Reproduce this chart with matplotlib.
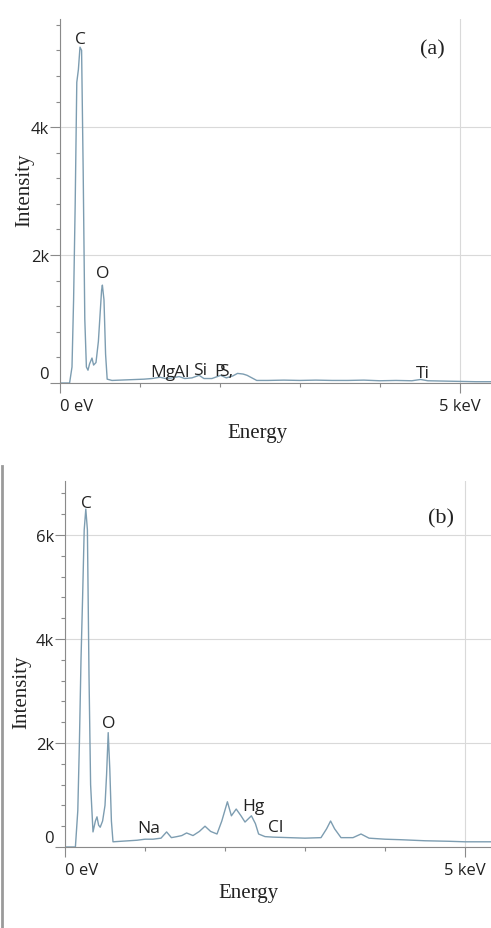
import matplotlib.pyplot as plt
from matplotlib.lines import Line2D
from matplotlib.ticker import MultipleLocator, FuncFormatter
from matplotlib.transforms import ScaledTranslation

# ---------------- data (keV, counts) ----------------
energy_a = [0.00, 0.12, 0.15, 0.17, 0.19, 0.21, 0.23, 0.25, 0.27, 0.29, 0.31, 0.33,
            0.35, 0.37, 0.40, 0.42, 0.45, 0.48, 0.50, 0.52, 0.53, 0.55, 0.57, 0.59,
            0.65, 0.75, 0.85, 0.95, 1.05, 1.15, 1.25, 1.32, 1.40, 1.49, 1.56, 1.65,
            1.74, 1.80, 1.90, 2.01, 2.08, 2.16, 2.22, 2.29, 2.34, 2.40, 2.46, 2.60,
            2.80, 3.00, 3.20, 3.40, 3.60, 3.80, 4.00, 4.20, 4.40, 4.51, 4.60, 4.80,
            5.00, 5.20, 5.39]
counts_a = [0, 0, 250, 1300, 2800, 4700, 4900, 5250, 5200, 3300, 1000, 250,
            200, 300, 390, 280, 320, 650, 1050, 1450, 1530, 1300, 450, 60,
            40, 45, 50, 55, 60, 70, 90, 70, 80, 100, 70, 80,
            120, 70, 70, 120, 80, 110, 150, 140, 120, 80, 40, 40,
            45, 40, 45, 40, 40, 45, 35, 40, 35, 55, 35, 30,
            25, 20, 20]

energy_b = [0.00, 0.13, 0.16, 0.18, 0.20, 0.22, 0.24, 0.26, 0.28, 0.30, 0.32, 0.35,
            0.38, 0.40, 0.42, 0.44, 0.47, 0.50, 0.52, 0.54, 0.56, 0.58, 0.60, 0.70,
            0.80, 0.90, 1.00, 1.10, 1.20, 1.27, 1.33, 1.40, 1.46, 1.52, 1.60, 1.68,
            1.75, 1.82, 1.90, 1.96, 2.03, 2.08, 2.14, 2.20, 2.25, 2.33, 2.38, 2.42,
            2.50, 2.60, 2.80, 3.00, 3.20, 3.27, 3.32, 3.37, 3.45, 3.60, 3.70, 3.80,
            4.00, 4.20, 4.50, 4.80, 5.00, 5.32]
counts_b = [0, 0, 700, 2000, 3600, 4800, 6100, 6500, 6100, 3300, 1200, 290,
            500, 580, 420, 380, 500, 800, 1400, 2200, 1500, 500, 100, 110,
            120, 130, 150, 150, 170, 290, 180, 200, 220, 270, 220, 300,
            400, 300, 250, 500, 870, 600, 730, 600, 480, 600, 450, 250,
            200, 190, 180, 170, 180, 350, 500, 350, 180, 180, 250, 170,
            150, 140, 120, 110, 100, 100]

labels_a = ["C", "O", "Mg", "Al", "Si", "P", "S,", "Ti"]
label_x_a = [0.26, 0.53, 1.29, 1.52, 1.75, 2.00, 2.08, 4.54]
label_y_a = [5380, 1720, 170, 170, 210, 180, 180, 150]

labels_b = ["C", "O", "Na", "Hg", "Cl"]
label_x_b = [0.27, 0.54, 1.05, 2.35, 2.63]
label_y_b = [6620, 2380, 360, 790, 390]

line_color = "#7d9db1"
grid_color = "#d9d9d9"
spine_color = "#8a8a8a"
text_color = "#222222"
sans = "Open Sans"
serif = "Liberation Serif"

fig = plt.figure(figsize=(4.91, 9.29), dpi=100)


def k_format(v, pos):
    if v == 0:
        return "0"
    return f"{int(round(v / 1000))}k"


def e_format(v, pos):
    if v == 0:
        return "0 eV"
    return f"{int(round(v))} keV"


def draw_panel(rect, energy, counts, ymax, xmax, labels, lx, ly,
               tag, tag_pos, ylab_pos, xlab_pos):
    ax = fig.add_axes(rect)
    ax.plot(energy, counts, color=line_color, lw=1.0)
    ax.set_xlim(0, xmax)
    ax.set_ylim(0, ymax)

    for s in ["top", "right"]:
        ax.spines[s].set_visible(False)
    for s in ["left", "bottom"]:
        ax.spines[s].set_color(spine_color)
        ax.spines[s].set_linewidth(0.8)

    ax.xaxis.set_major_locator(MultipleLocator(5))
    ax.xaxis.set_minor_locator(MultipleLocator(1))
    ax.yaxis.set_major_locator(MultipleLocator(2000))
    ax.yaxis.set_minor_locator(MultipleLocator(400))
    ax.xaxis.set_major_formatter(FuncFormatter(e_format))
    ax.yaxis.set_major_formatter(FuncFormatter(k_format))
    ax.tick_params(which="major", length=7, width=0.8, color=spine_color,
                   labelsize=12, labelcolor=text_color)
    ax.tick_params(which="minor", length=3, width=0.8, color=spine_color)
    ax.tick_params(axis="y", pad=1)
    ax.tick_params(axis="x", pad=4)

    ax.grid(True, which="major", color=grid_color, lw=0.8)
    ax.set_axisbelow(True)

    fig.canvas.draw()
    for tk in ax.xaxis.get_major_ticks():
        tk.label1.set_fontfamily(sans)
        if abs(tk.get_loc()) < 1e-9:
            tk.label1.set_horizontalalignment("left")
    for tk in ax.yaxis.get_major_ticks():
        tk.label1.set_fontfamily(sans)
        if abs(tk.get_loc()) < 1e-9:
            tk.label1.set_transform(tk.label1.get_transform()
                                    + ScaledTranslation(0, 0.11, fig.dpi_scale_trans))

    for t, x, y in zip(labels, lx, ly):
        ax.text(x, y, t, ha="center", va="center", fontsize=12.5,
                fontfamily=sans, color=text_color)

    ax.text(tag_pos[0], tag_pos[1], tag, transform=ax.transAxes, ha="center",
            va="center", fontsize=16, fontfamily=serif, color=text_color)
    ax.set_xlabel("Energy", fontfamily=serif, fontsize=15, color=text_color)
    ax.set_ylabel("Intensity", fontfamily=serif, fontsize=15, color=text_color)
    ax.xaxis.set_label_coords(*xlab_pos)
    ax.yaxis.set_label_coords(*ylab_pos)
    ax.xaxis.label.set_verticalalignment("center")
    ax.yaxis.label.set_verticalalignment("center")
    return ax


ax_a = draw_panel([60 / 491, 1 - 384 / 929, 431 / 491, 364 / 929],
                  energy_a, counts_a, 5690, 5.39,
                  labels_a, label_x_a, label_y_a, "(a)",
                  (0.865, 0.918), (-0.081, 0.533), (0.457, -0.135))
ax_b = draw_panel([65 / 491, 1 - 848 / 929, 426 / 491, 366 / 929],
                  energy_b, counts_b, 7040, 5.325,
                  labels_b, label_x_b, label_y_b, "(b)",
                  (0.883, 0.899), (-0.101, 0.426), (0.43, -0.123))

# grey frame line at the left of the lower panel
fig.add_artist(Line2D([2 / 491, 2 / 491], [0, 1 - 467 / 929],
                      transform=fig.transFigure, color="#9a9a9a", lw=2))

fig.savefig("out.png", dpi=100, facecolor="white")
